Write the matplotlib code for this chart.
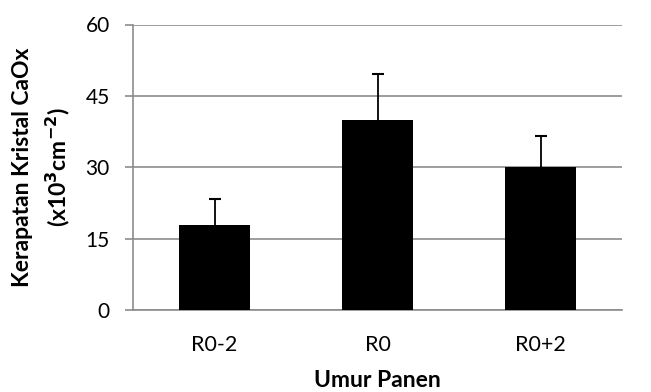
import matplotlib.pyplot as plt
import numpy as np

categories = ["R0-2", "R0", "R0+2"]
values = [17.9, 40.0, 30.0]
errors = [5.5, 9.6, 6.5]
yticks = [0, 15, 30, 45, 60]

plt.rcParams['font.family'] = ['Lato', 'DejaVu Sans']
plt.rcParams['axes.unicode_minus'] = False

fig = plt.figure(figsize=(6.51, 3.92), dpi=100)
ax = fig.add_axes([133 / 651, 1 - 310 / 392, 489 / 651, 285.5 / 392])

x = np.arange(len(categories))
ax.bar(x, values, width=0.43, color='black', zorder=3)
# the bar hides the lower half of each error bar
ax.errorbar(x, values, yerr=errors, fmt='none',
            ecolor='black', elinewidth=1.3, capsize=4, capthick=1.5, zorder=2.5)

ax.set_xlim(-0.5, len(categories) - 0.5)
ax.set_ylim(0, 60)
ax.set_yticks(yticks)
ax.set_xticks(x)
ax.set_xticklabels(categories)

ax.grid(axis='y', color='#8c8c8c', linewidth=1.2, zorder=0)
for s in ['top', 'right']:
    ax.spines[s].set_visible(False)
ax.spines['left'].set_color('#8c8c8c')
ax.spines['bottom'].set_color('#8c8c8c')
ax.spines['left'].set_linewidth(1.2)
ax.spines['bottom'].set_linewidth(1.2)
ax.tick_params(axis='y', length=5.8, width=1.2, color='#8c8c8c', labelsize=15, pad=11)
ax.tick_params(axis='x', length=0, labelsize=15.5, pad=18)

ax.set_xlabel("Umur Panen", fontsize=16.5, fontweight='bold', labelpad=11)
ax.set_ylabel("Kerapatan Kristal CaOx\n(x10$^{\\mathbf{3}}$cm$^{\\mathbf{-2}}$)",
              fontsize=16.5, fontweight='bold', labelpad=10, linespacing=1.45)

fig.savefig("out.png", dpi=100)
